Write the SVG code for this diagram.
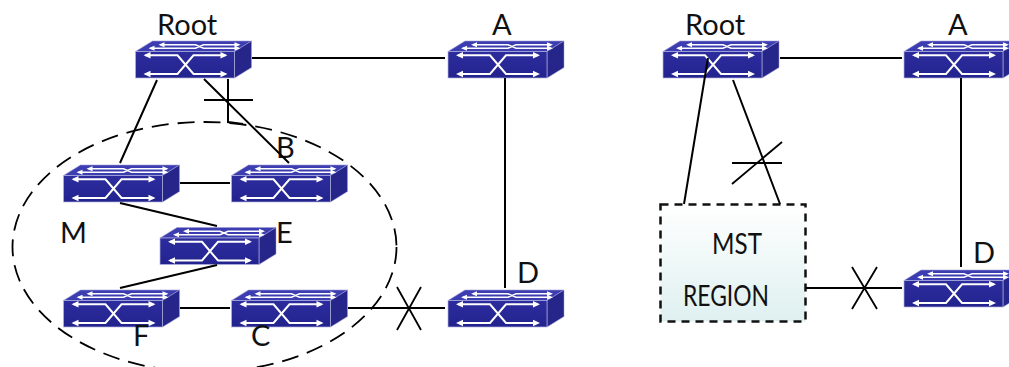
<svg xmlns="http://www.w3.org/2000/svg" width="1009" height="367" viewBox="0 0 1009 367">
<style>
text{font-family:"Lato","Open Sans",sans-serif;font-size:29px;fill:#111}
.c{fill:none;stroke:#000;stroke-width:2}
.t{fill:none;stroke:#000;stroke-width:1.800}
.w{fill:none;stroke:#fff;stroke-width:2}
.v{fill:none;stroke:#fff;stroke-width:1.500}
</style>
<defs>
<linearGradient id="f" x1="0" y1="0" x2="0" y2="1"><stop offset="0" stop-color="#2c2c9e"/><stop offset="1" stop-color="#23238f"/></linearGradient>
<linearGradient id="m" x1="0" y1="0" x2="0" y2="1"><stop offset="0" stop-color="#fff"/><stop offset="1" stop-color="#dff0f0"/></linearGradient>
<g id="sw">
<path d="M0 10.500L17 0H116L99 10.500Z" fill="#3d3db2" stroke="#9f9fd6" stroke-width=".6"/>
<path d="M99 10.500L116 0V26.500L99 37Z" fill="#25258a" stroke="#9f9fd6" stroke-width=".5"/>
<rect x="0" y="10.500" width="99" height="26.500" fill="url(#f)" stroke="#b4b4e0" stroke-width=".7"/>
<path class="w" d="M10 14.300H42L58 33H90M10 33H42L58 14.300H90"/>
<path class="v" d="M25 3.700H60L68 7.300H103M15 7.300H60L68 3.700H103"/>
<path fill="#fff" d="M8 14.300l7-3.200v6.400zM92 14.300l-7-3.200v6.400zM8 33l7-3.200v6.400zM92 33l-7-3.200v6.400zM23 3.700l6-2.500v5zM105 3.700l-6-2.500v5zM13 7.300l6-2.500v5zM105 7.300l-6-2.500v5z"/>
</g>
</defs>
<ellipse id="region-left" cx="204.500" cy="247" rx="192" ry="125" fill="none" stroke="#000" stroke-width="1.800" stroke-dasharray="17 9"/>
<g id="mst-region"><rect x="660.500" y="204.500" width="145" height="117" fill="url(#m)" stroke="#111" stroke-width="2.500" stroke-dasharray="8 6"/>
<text x="712" y="254" textLength="50" lengthAdjust="spacingAndGlyphs">MST</text><text x="683" y="306" textLength="86" lengthAdjust="spacingAndGlyphs">REGION</text></g>
<g id="root-l"><use href="#sw" x="135.500" y="41"/><text x="157" y="35">Root</text></g>
<g id="a-l"><use href="#sw" x="448" y="41"/><text x="492" y="35">A</text></g>
<g id="m-n"><use href="#sw" x="63.500" y="165"/><text x="60" y="243">M</text></g>
<g id="b"><use href="#sw" x="231.500" y="165"/><text x="276" y="158">B</text></g>
<g id="e"><use href="#sw" x="160" y="227.500"/><text x="276" y="243">E</text></g>
<g id="f-n"><use href="#sw" x="63.500" y="290"/><text x="133" y="346">F</text></g>
<g id="c"><use href="#sw" x="231.500" y="290"/><text x="251" y="346">C</text></g>
<g id="d-l"><use href="#sw" x="448" y="290"/><text x="517" y="283">D</text></g>
<g id="root-r"><use href="#sw" x="663" y="41"/><text x="685" y="35">Root</text></g>
<g id="a-r"><use href="#sw" x="904" y="41"/><text x="948" y="35">A</text></g>
<g id="d-r"><use href="#sw" x="904" y="270"/><text x="973" y="263">D</text></g>
<g id="connectors">
<path class="c" d="M252 58H445M157 80L120 163M204 79L289 163M228 79V122L243 124M180 183H230M120 203L217 226M217 265L120 288M180 308H230M348 308H445M505 78V288M780 58H902M708 58L684 204M733 80L780 204M961 78V267M806 288H902"/>
<path class="t" d="M204 100H253M397 287L421 330M421 287L397 330M732 163H782M732 184L782 142M852 267L877 309M877 267L852 309"/>
</g>
</svg>
